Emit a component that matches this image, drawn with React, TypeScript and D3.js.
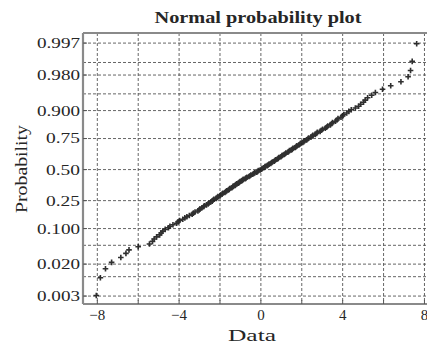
import React from 'react';
import * as d3 from 'd3';

// sorted sample values (rank i -> probability (i - 0.5) / n)
const sampleValues: number[] = [
  -8.05, -7.85, -7.6, -7.3, -6.85, -6.6, -6.45, -6.0, -5.45, -5.3,
  -5.22, -5.1, -4.95, -4.88, -4.8, -4.68, -4.52, -4.45, -4.3, -4.12,
  -4.05, -3.98, -3.82, -3.72, -3.62, -3.5, -3.36, -3.3, -3.22, -3.08,
  -3.02, -2.98, -2.88, -2.8, -2.77, -2.66, -2.58, -2.54, -2.45, -2.38,
  -2.35, -2.3, -2.18, -2.14, -2.1, -2.0, -1.97, -1.9, -1.86, -1.76,
  -1.72, -1.68, -1.58, -1.55, -1.52, -1.42, -1.38, -1.35, -1.26, -1.23,
  -1.18, -1.1, -1.06, -1.02, -0.94, -0.9, -0.86, -0.76, -0.72, -0.68,
  -0.58, -0.53, -0.49, -0.4, -0.35, -0.3, -0.2, -0.16, -0.12, -0.03,
  0.03, 0.06, 0.14, 0.19, 0.22, 0.31, 0.36, 0.4, 0.48, 0.52,
  0.56, 0.65, 0.69, 0.72, 0.82, 0.85, 0.88, 0.98, 1.02, 1.05,
  1.14, 1.19, 1.22, 1.32, 1.36, 1.4, 1.5, 1.54, 1.57, 1.68,
  1.72, 1.76, 1.86, 1.9, 1.94, 2.05, 2.1, 2.13, 2.24, 2.29,
  2.33, 2.45, 2.5, 2.54, 2.66, 2.72, 2.76, 2.9, 2.96, 3.02,
  3.15, 3.22, 3.27, 3.4, 3.46, 3.5, 3.65, 3.72, 3.77, 3.92,
  4.0, 4.05, 4.2, 4.3, 4.42, 4.62, 4.78, 4.88, 5.02, 5.1,
  5.22, 5.42, 5.6, 5.95, 6.35, 6.85, 7.2, 7.32, 7.4, 7.62,
];

const gridProbs = [0.003, 0.01, 0.02, 0.05, 0.1, 0.25, 0.5, 0.75, 0.9, 0.95, 0.98, 0.99, 0.997];
const labelProbs = [0.003, 0.02, 0.1, 0.25, 0.5, 0.75, 0.9, 0.98, 0.997];
const labelTexts = ['0.003', '0.020', '0.100', '0.25', '0.50', '0.75', '0.900', '0.980', '0.997'];
const xTicks = [-8, -6, -4, -2, 0, 2, 4, 6, 8];
const xLabelTicks = [-8, -4, 0, 4, 8];

const W = 427;
const H = 344;
const plot = { left: 83, right: 431, top: 33, bottom: 304 };
const font = 'Liberation Serif, Times New Roman, serif';
const textColor = '#262626';

// inverse normal cdf (Acklam), used for the probability axis
function probit(p: number): number {
  const a = [-39.6968302866538, 220.946098424521, -275.928510446969, 138.357751867269, -30.6647980661472, 2.50662827745924];
  const b = [-54.4760987982241, 161.585836858041, -155.698979859887, 66.8013118877197, -13.2806815528857];
  const c = [-0.00778489400243029, -0.322396458041136, -2.40075827716184, -2.54973253934373, 4.37466414146497, 2.93816398269878];
  const d = [0.00778469570904146, 0.32246712907004, 2.445134137143, 3.75440866190742];
  const pl = 0.02425;
  if (p < pl) {
    const q = Math.sqrt(-2 * Math.log(p));
    return (((((c[0] * q + c[1]) * q + c[2]) * q + c[3]) * q + c[4]) * q + c[5]) /
      ((((d[0] * q + d[1]) * q + d[2]) * q + d[3]) * q + 1);
  }
  if (p > 1 - pl) return -probit(1 - p);
  const q = p - 0.5;
  const r = q * q;
  return (((((a[0] * r + a[1]) * r + a[2]) * r + a[3]) * r + a[4]) * r + a[5]) * q /
    (((((b[0] * r + b[1]) * r + b[2]) * r + b[3]) * r + b[4]) * r + 1);
}

export default function App() {
  const n = sampleValues.length;
  const x = d3.scaleLinear().domain([-8.7, 8.32]).range([plot.left, plot.right]);
  const y = d3.scaleLinear().domain([-2.92, 2.967]).range([plot.bottom, plot.top]);

  const points = sampleValues.map((v, i) => ({ v, z: probit((i + 0.5) / n) }));

  return (
    <svg width={W} height={H} style={{ position: 'absolute', left: 0, top: 0, background: '#fff' }}>
      <rect width={W} height={H} fill="#fff" />

      {/* grid */}
      <g stroke="#555" strokeWidth={0.9} strokeDasharray="3,2">
        {gridProbs.map(p => (
          <line key={'h' + p} x1={plot.left} x2={W} y1={y(probit(p))} y2={y(probit(p))} />
        ))}
        {xTicks.map(t => (
          <line key={'v' + t} x1={x(t)} x2={x(t)} y1={plot.top} y2={plot.bottom} />
        ))}
      </g>

      {/* frame */}
      <g stroke="#8a8a8a" strokeWidth={2.2} fill="none">
        <line x1={plot.left} x2={W} y1={plot.top} y2={plot.top} />
        <line x1={plot.left} x2={W} y1={plot.bottom} y2={plot.bottom} />
        <line x1={plot.left} x2={plot.left} y1={plot.top} y2={plot.bottom} />
      </g>

      {/* ticks */}
      <g stroke="#555" strokeWidth={1}>
        {labelProbs.map(p => (
          <line key={'yt' + p} x1={plot.left} x2={plot.left + 4} y1={y(probit(p))} y2={y(probit(p))} />
        ))}
        {xTicks.map(t => (
          <line key={'xt' + t} x1={x(t)} x2={x(t)} y1={plot.bottom} y2={plot.bottom - 4} />
        ))}
      </g>

      {/* data markers */}
      <g stroke="#1a1a1a" strokeWidth={1.6} fill="none" opacity={0.9}>
        {points.map((d, i) => {
          const cx = x(d.v);
          const cy = y(d.z);
          return <path key={i} d={`M${cx - 2.8},${cy}H${cx + 2.8}M${cx},${cy - 2.8}V${cy + 2.8}`} />;
        })}
      </g>

      {/* y labels */}
      <g fontFamily={font} fontSize={15} fill={textColor} textAnchor="end">
        {labelProbs.map((p, i) => (
          <text key={'yl' + p} x={80} y={y(probit(p))} dy="0.33em"
            textLength={labelTexts[i].length === 5 ? 43 : 34} lengthAdjust="spacingAndGlyphs">
            {labelTexts[i]}
          </text>
        ))}
      </g>

      {/* x labels */}
      <g fontFamily={font} fontSize={15} fill={textColor} textAnchor="middle">
        {xLabelTicks.map(t => (
          <text key={'xl' + t} x={x(t)} y={320}>{t < 0 ? '\u2212' + Math.abs(t) : String(t)}</text>
        ))}
      </g>

      <text x={258} y={23} fontFamily={font} fontSize={16} fontWeight="bold" fill={textColor} textAnchor="middle"
        textLength={207} lengthAdjust="spacingAndGlyphs">Normal probability plot</text>
      <text x={252} y={341} fontFamily={font} fontSize={16} fill={textColor} textAnchor="middle"
        textLength={48} lengthAdjust="spacingAndGlyphs">Data</text>
      <text transform="translate(27,169) rotate(-90)" fontFamily={font} fontSize={16} fill={textColor}
        textAnchor="middle" textLength={88} lengthAdjust="spacingAndGlyphs">Probability</text>
    </svg>
  );
}
